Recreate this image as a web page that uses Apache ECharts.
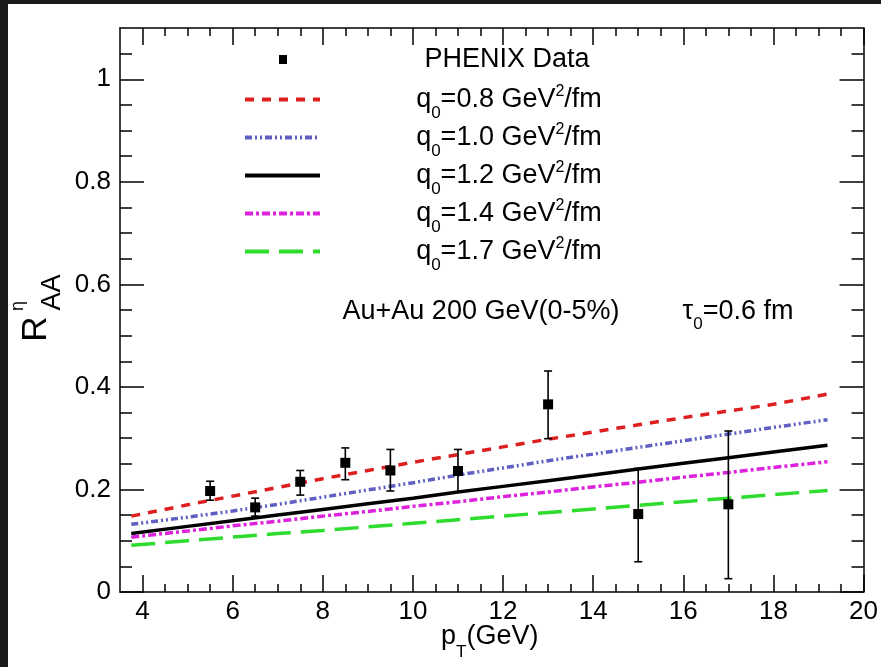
<!DOCTYPE html>
<html>
<head>
<meta charset="utf-8">
<script src="https://cdn.jsdelivr.net/npm/echarts@6/dist/echarts.min.js"></script>
<style>html,body{margin:0;padding:0;background:#fff}#c{width:881px;height:667px}</style>
</head>
<body>
<div id="c"></div>
<script>
// ---------- data ----------
const xMajorTicks = [4, 6, 8, 10, 12, 14, 16, 18, 20];
const xMinorTicks = [4, 4.5, 5, 5.5, 6, 6.5, 7, 7.5, 8, 8.5, 9, 9.5, 10, 10.5, 11, 11.5, 12, 12.5, 13, 13.5, 14, 14.5, 15, 15.5, 16, 16.5, 17, 17.5, 18, 18.5, 19, 19.5];
const yMajorTicks = [0, 0.2, 0.4, 0.6, 0.8, 1];
const yMinorTicks = [0, 0.05, 0.1, 0.15, 0.2, 0.25, 0.3, 0.35, 0.4, 0.45, 0.5, 0.55, 0.6, 0.65, 0.7, 0.75, 0.8, 0.85, 0.9, 0.95, 1, 1.05];

const phenixX    = [5.5, 6.5, 7.5, 8.5, 9.5, 11, 13, 15, 17];
const phenixY    = [0.197, 0.165, 0.215, 0.252, 0.237, 0.236, 0.366, 0.152, 0.171];
const phenixLow  = [0.179, 0.148, 0.189, 0.219, 0.197, 0.195, 0.299, 0.059, 0.026];
const phenixHigh = [0.216, 0.183, 0.237, 0.281, 0.278, 0.278, 0.431, 0.241, 0.314];

const curveX  = [3.75, 5, 6, 7, 8, 9, 10, 11, 12, 13, 14, 15, 16, 17, 18, 19.2];
const q08 = [0.148, 0.170, 0.187, 0.204, 0.221, 0.237, 0.253, 0.268, 0.283, 0.298, 0.312, 0.326, 0.340, 0.353, 0.366, 0.386];
const q10 = [0.132, 0.146, 0.158, 0.171, 0.185, 0.199, 0.213, 0.228, 0.242, 0.256, 0.269, 0.282, 0.295, 0.308, 0.321, 0.336];
const q12 = [0.114, 0.128, 0.139, 0.150, 0.161, 0.172, 0.183, 0.195, 0.206, 0.217, 0.228, 0.240, 0.251, 0.262, 0.273, 0.286];
const q14 = [0.107, 0.119, 0.129, 0.138, 0.148, 0.157, 0.167, 0.176, 0.186, 0.195, 0.205, 0.214, 0.224, 0.233, 0.243, 0.254];
const q17 = [0.091, 0.100, 0.107, 0.114, 0.120, 0.127, 0.134, 0.141, 0.148, 0.155, 0.162, 0.169, 0.176, 0.183, 0.190, 0.198];

const q0Labels = ['0.8', '1.0', '1.2', '1.4', '1.7'];
const curveSets = [q08, q10, q12, q14, q17];
const curveColors = ['#dd1f1f', '#5f5fc4', '#000000', '#dd22dd', '#2edc2e'];
const curveDash = [[9, 8], [7, 3, 2, 3, 2, 3], 'solid', [8, 3, 3, 3], [24, 10]];

// ---------- chart ----------
const F = '"Liberation Sans", Arial, Helvetica, sans-serif';
const chart = echarts.init(document.getElementById('c'), null, {renderer: 'canvas'});

const curveNames = q0Labels.map(v => 'q0=' + v + ' GeV2/fm');
const richBase = {
  a: {fontSize: 27, fontFamily: F, color: '#000', lineHeight: 30, align: 'center'},
  s: {fontSize: 17, fontFamily: F, color: '#000', lineHeight: 30, align: 'center', padding: [28, 0, 0, 0]},
  p: {fontSize: 16, fontFamily: F, color: '#000', lineHeight: 30, align: 'center', padding: [0, 0, 16, 0]}
};

function xAxisDef(pos, ticks, len, showLabel, showLine) {
  return {
    type: 'value', min: 3.5, max: 20, position: pos,
    axisLine: {show: showLine, onZero: false, lineStyle: {color: '#000', width: 1.5}},
    axisTick: {show: true, inside: true, length: len, customValues: ticks, lineStyle: {color: '#000', width: 1.5}},
    axisLabel: {show: showLabel, customValues: ticks, margin: 7, color: '#000', fontSize: 26, fontFamily: F},
    splitLine: {show: false}
  };
}
function yAxisDef(pos, ticks, len, showLabel, showLine) {
  return {
    type: 'value', min: 0, max: 1.1, position: pos,
    axisLine: {show: showLine, onZero: false, lineStyle: {color: '#000', width: 1.5}},
    axisTick: {show: true, inside: true, length: len, customValues: ticks, lineStyle: {color: '#000', width: 1.5}},
    axisLabel: {show: showLabel, customValues: ticks, margin: 9, color: '#000', fontSize: 26, fontFamily: F},
    splitLine: {show: false}
  };
}

const lineSeries = curveSets.map((vals, i) => ({
  name: curveNames[i],
  type: 'line',
  xAxisIndex: 0, yAxisIndex: 0,
  symbol: 'none',
  smooth: false,
  data: curveX.map((x, j) => [x, vals[j]]),
  lineStyle: {color: curveColors[i], width: 3.5, type: curveDash[i]},
  itemStyle: {color: curveColors[i]},
  z: 2
}));

const option = {
  animation: false,
  backgroundColor: '#ffffff',
  grid: {left: 120, top: 28, right: 13, bottom: 75, containLabel: false},
  xAxis: [
    xAxisDef('bottom', xMajorTicks, 17, true, true),
    xAxisDef('bottom', xMinorTicks, 8, false, false),
    xAxisDef('top', xMajorTicks, 17, false, true),
    xAxisDef('top', xMinorTicks, 8, false, false)
  ],
  yAxis: [
    yAxisDef('left', yMajorTicks, 24, true, true),
    yAxisDef('left', yMinorTicks, 12, false, false),
    yAxisDef('right', yMajorTicks, 24, false, true),
    yAxisDef('right', yMinorTicks, 12, false, false)
  ],
  legend: [
    {
      data: [{name: 'PHENIX Data', icon: 'rect'}],
      left: 279, top: 46, orient: 'vertical', padding: 0,
      itemWidth: 8, itemHeight: 9, selectedMode: false,
      itemStyle: {opacity: 1},
      formatter: n => '{a|' + n + '}',
      textStyle: {width: 430, rich: richBase}
    },
    {
      data: curveNames,
      left: 243, top: 77, orient: 'vertical', padding: 0,
      itemWidth: 75, itemHeight: 4, itemGap: -7, selectedMode: false,
      lineStyle: {width: 4},
      itemStyle: {opacity: 0},
      formatter: n => {
        const i = curveNames.indexOf(n);
        return '{a|q}{s|0}{a|=' + q0Labels[i] + ' GeV}{p|2}{a|/fm}';
      },
      textStyle: {width: 368, rich: richBase}
    }
  ],
  graphic: [
    {type: 'rect', left: 0, top: 0, z: 100, shape: {width: 8, height: 667}, style: {fill: '#1a1a1a'}},
    {type: 'rect', left: 0, top: 0, z: 100, shape: {width: 881, height: 4}, style: {fill: '#1a1a1a'}},
    {type: 'text', x: 481, y: 312, style: {text: 'Au+Au 200 GeV(0-5%)', fontSize: 27, fontFamily: F, fill: '#000', align: 'center', verticalAlign: 'middle'}},
    {type: 'text', x: 738, y: 312, style: {text: '{a|τ}{s|0}{a|=0.6 fm}', rich: {
      a: {fontSize: 27, fontFamily: F, fill: '#000', lineHeight: 30},
      s: {fontSize: 17, fontFamily: F, fill: '#000', lineHeight: 30, padding: [24, 0, 0, 0]}
    }, align: 'center', verticalAlign: 'middle'}},
    {type: 'text', x: 441, y: 637, style: {text: '{a|p}{s|T}{a|(GeV)}', rich: {
      a: {fontSize: 27, fontFamily: F, fill: '#000', lineHeight: 30},
      s: {fontSize: 17, fontFamily: F, fill: '#000', lineHeight: 30, padding: [30, 0, 0, 0]}
    }, align: 'left', verticalAlign: 'middle'}},
    {type: 'text', x: 36.5, y: 329, rotation: Math.PI / 2, style: {text: 'R', fontSize: 35, fontFamily: F, fill: '#000', align: 'center', verticalAlign: 'middle'}},
    {type: 'text', x: 18, y: 306, rotation: Math.PI / 2, style: {text: 'η', fontSize: 18, fontFamily: F, fill: '#000', align: 'center', verticalAlign: 'middle'}},
    {type: 'text', x: 52.5, y: 292.5, rotation: Math.PI / 2, style: {text: 'AA', fontSize: 27, fontFamily: F, fill: '#000', align: 'center', verticalAlign: 'middle'}}
  ],
  series: lineSeries.concat([
    {
      name: 'PHENIX errors',
      type: 'custom',
      xAxisIndex: 0, yAxisIndex: 0,
      data: phenixX.map((x, i) => [x, phenixLow[i], phenixHigh[i]]),
      encode: {x: 0, y: [1, 2]},
      z: 3,
      renderItem: function (params, api) {
        const top = api.coord([api.value(0), api.value(2)]);
        const bot = api.coord([api.value(0), api.value(1)]);
        const c = 4;
        const st = {stroke: '#000', lineWidth: 1.6};
        return {type: 'group', children: [
          {type: 'line', shape: {x1: top[0], y1: top[1], x2: bot[0], y2: bot[1]}, style: st},
          {type: 'line', shape: {x1: top[0] - c, y1: top[1], x2: top[0] + c, y2: top[1]}, style: st},
          {type: 'line', shape: {x1: bot[0] - c, y1: bot[1], x2: bot[0] + c, y2: bot[1]}, style: st}
        ]};
      }
    },
    {
      name: 'PHENIX Data',
      type: 'scatter',
      xAxisIndex: 0, yAxisIndex: 0,
      symbol: 'rect', symbolSize: 10,
      itemStyle: {color: '#000', opacity: 1},
      data: phenixX.map((x, i) => [x, phenixY[i]]),
      z: 4
    }
  ])
};
chart.setOption(option);
</script>
</body>
</html>
